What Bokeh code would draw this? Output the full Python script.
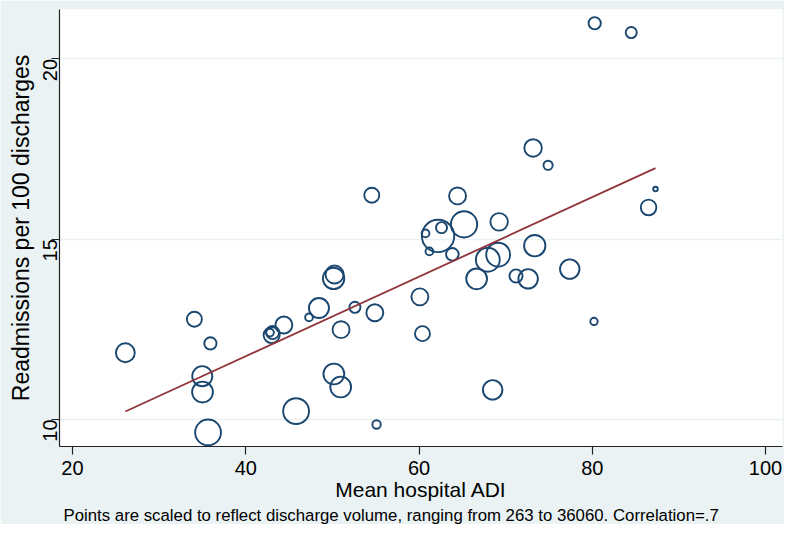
import math
from bokeh.plotting import figure
from bokeh.models import Range1d, ColumnDataSource, Title, FixedTicker
from bokeh.embed import file_html
from bokeh.resources import INLINE

# ---- data ----
adi = [26.1, 34.07, 35.92, 34.98, 35.01, 35.65, 45.81, 55.1, 50.17, 50.96,
       51.0, 54.9, 52.6, 48.45, 47.3, 44.4, 42.99, 43.1, 42.8, 50.14,
       50.25, 60.1, 60.4, 62.2, 60.75, 62.6, 61.2, 63.85, 65.2, 54.55,
       64.45, 73.17, 74.9, 87.3, 86.5, 71.2, 72.6, 77.4, 73.36, 69.14,
       67.94, 66.65, 69.25, 80.2, 68.5, 80.28, 84.5]
readmit = [11.85, 12.78, 12.11, 11.20, 10.76, 9.64, 10.23, 9.86, 11.26, 10.90,
           12.49, 12.96, 13.11, 13.09, 12.83, 12.62, 12.34, 12.41, 12.41, 13.91,
           14.02, 13.40, 12.38, 15.09, 15.16, 15.32, 14.66, 14.58, 15.41, 16.22,
           16.20, 17.53, 17.05, 16.39, 15.88, 13.98, 13.90, 14.17, 14.82, 14.57,
           14.43, 13.90, 15.48, 12.72, 10.82, 20.99, 20.73]
discharges = [11100, 6600, 4100, 12700, 13800, 22100, 22100, 1600, 13800, 13800,
              8700, 8700, 3200, 12700, 1300, 8700, 7800, 4800, 1300, 14600,
              10100, 8700, 6600, 36060, 1300, 3200, 1300, 4400, 22900, 6600,
              8700, 9400, 2000, 263, 7200, 4800, 11900, 11900, 14600, 18700,
              18700, 13800, 9400, 1100, 11900, 4100, 3200]
fit_adi = [26.1, 87.3]
fit_readmit = [10.22, 16.97]
x_ticks = [20, 40, 60, 80, 100]
y_ticks = [10, 15, 20]
max_discharge = 36060

# marker diameter (screen px) scaled by discharge volume
sizes = [2 * (1 + 15.2 * math.sqrt(v / max_discharge)) for v in discharges]
src = ColumnDataSource(dict(x=adi, y=readmit, size=sizes))

BG = "#EAF2F3"
FONT = "Liberation Sans"

p = figure(width=784, height=524, output_backend="svg", toolbar_location=None,
           x_range=Range1d(18.5, 101.96), y_range=Range1d(9.25, 21.37),
           min_border_left=59, min_border_right=2, min_border_top=9,
           min_border_bottom=78)
p.background_fill_color = "white"
p.border_fill_color = BG
p.outline_line_color = None

p.scatter("x", "y", size="size", source=src, marker="circle",
          fill_color=None, line_color="#1A476F", line_width=1.9)
p.line(fit_adi, fit_readmit, line_color="#90353B", line_width=1.8)

# grid: horizontal only
p.xgrid.grid_line_color = None
p.ygrid.grid_line_color = BG
p.ygrid.grid_line_width = 1.5
p.ygrid.ticker = FixedTicker(ticks=y_ticks)

for ax in (p.xaxis[0], p.yaxis[0]):
    ax.axis_line_color = "#222222"
    ax.axis_line_width = 1.2
    ax.major_tick_line_color = "#222222"
    ax.major_tick_line_width = 1.2
    ax.major_tick_in = 0
    ax.major_tick_out = 8
    ax.minor_tick_line_color = None
    ax.major_label_text_font = FONT
    ax.major_label_text_font_size = "20px"
    ax.major_label_text_color = "black"
    ax.axis_label_text_font = FONT
    ax.axis_label_text_font_style = "normal"
    ax.axis_label_text_color = "black"

p.xaxis[0].ticker = FixedTicker(ticks=x_ticks)
p.yaxis[0].ticker = FixedTicker(ticks=y_ticks)
p.xaxis[0].axis_label = "Mean hospital ADI"
p.xaxis[0].axis_label_text_font_size = "21px"
p.xaxis[0].major_label_standoff = 6
p.xaxis[0].axis_label_standoff = 0
p.yaxis[0].axis_label = "Readmissions per 100 discharges"
p.yaxis[0].axis_label_text_font_size = "23px"
p.yaxis[0].major_label_orientation = math.pi / 2
p.yaxis[0].major_label_standoff = 1
p.yaxis[0].axis_label_standoff = 0

note = Title(text="Points are scaled to reflect discharge volume, ranging from 263 to 36060. Correlation=.7",
             align="left", offset=4, standoff=0, text_font=FONT, text_font_size="16.8px",
             text_font_style="normal", text_color="black")
p.add_layout(note, "below")

open("out.html", "w").write(file_html(p, INLINE))
